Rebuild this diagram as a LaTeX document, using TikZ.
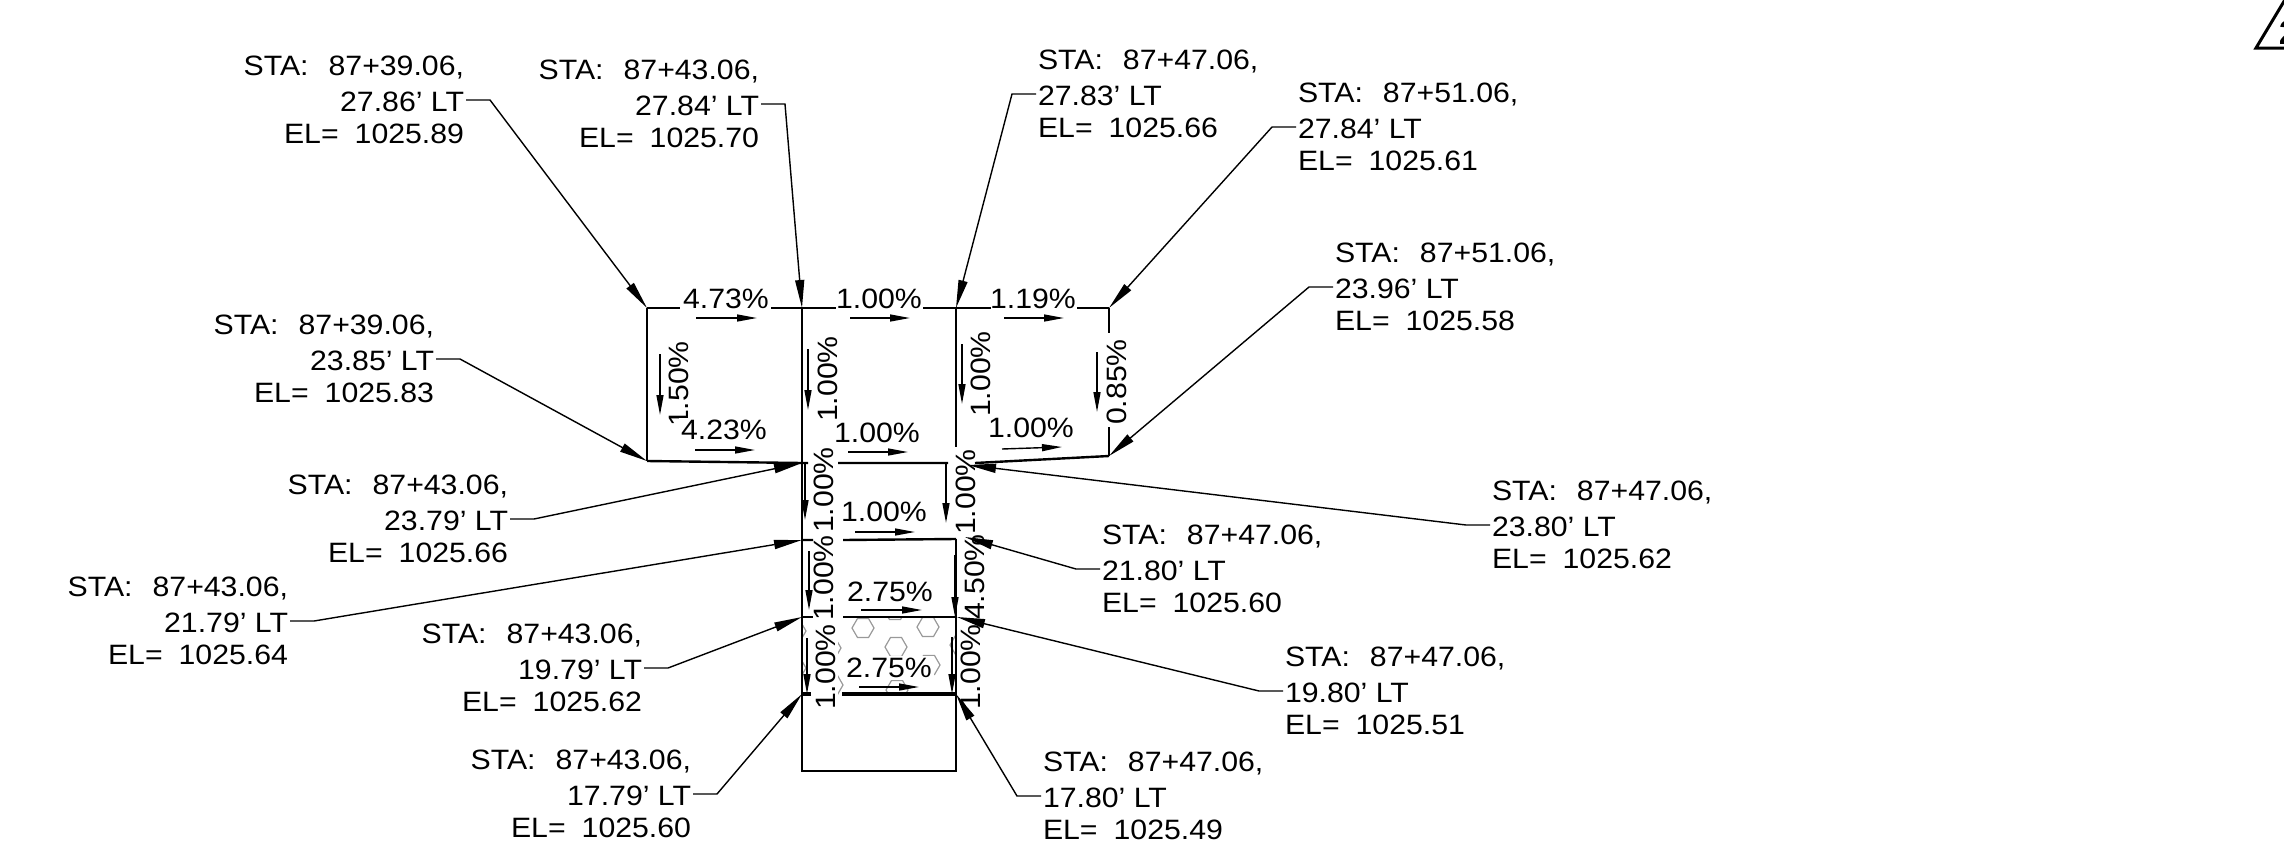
\documentclass[tikz,border=0pt]{standalone}
\usepackage{fontspec}
\setmainfont[FakeStretch=1.08]{Liberation Sans}
\usetikzlibrary{arrows.meta}
\newcommand{\sta}[1]{STA:\hspace{10pt}87+#1,}
\newcommand{\elv}[1]{EL=\hspace{8pt}#1}
\tikzset{
  x=0.5pt,y=-0.5pt,
  txt/.style={font=\fontsize{14}{16}\selectfont,inner sep=0pt,outer sep=1pt},
  rlab/.style={txt,align=right,anchor=east},
  llab/.style={txt,align=left,anchor=west},
  grade/.style={txt},
  rgrade/.style={txt,rotate=90},
  mask/.style={fill=white,inner sep=1pt},
  slab/.style={line width=1.2pt,line cap=butt},
  edge box/.style={line width=0.9pt},
  leader/.style={line width=0.7pt,-{Stealth[length=14pt,width=4.5pt,inset=0pt]},shorten >=0pt},
  flow/.style={line width=0.7pt,-{Stealth[length=10pt,width=3.5pt,inset=0pt]}},
  hexa/.style={draw=black!40,line width=0.6pt},
}
\begin{document}
\begin{tikzpicture}
\useasboundingbox (0,0) rectangle (2284,846);
% grid points
\coordinate (A) at (647,308); \coordinate (B) at (802,308); \coordinate (C) at (956,308); \coordinate (D) at (1109,308);
\coordinate (E) at (647,461); \coordinate (F) at (802,463); \coordinate (G) at (968,465); \coordinate (H) at (1109,456);
\coordinate (I) at (802,540); \coordinate (J) at (965,537);
\coordinate (K) at (802,617); \coordinate (L) at (957,617);
\coordinate (M) at (802,694); \coordinate (N) at (956,694);
\coordinate (P) at (802,771); \coordinate (Q) at (956,771);
% hexagon hatch
\begin{scope}
\clip (802,617) rectangle (956,694);
\foreach \c in {(863,628),(928,627),(896,647),(795,631),(795,668),(830,648),(832,685),(929,665),(961,645),(897,690),(895,610)}{
  \draw[hexa] \c +(0:11) -- +(60:11) -- +(120:11) -- +(180:11) -- +(240:11) -- +(300:11) -- cycle;
}
\end{scope}
% masking grade labels
\node[rgrade,mask] (g1a) at (826,667) {1.00\%};
\node[rgrade,mask] (g1b) at (971,667) {1.00\%};
\node[grade,mask] (g2a) at (889,668) {2.75\%};
% slab lines
\draw[slab] (A) -- (680,308) (771,308) -- (836,308) (923,308) -- (991,308) (1077,308) -- (D);
\draw[slab] (A) -- (E);
\draw[slab] (B) -- (M);
\draw[edge box] (M) -- (P) -- (Q) -- (N);
\draw[slab] (C) -- (956,447);
\draw[slab] (956,539) -- (N);
\draw[slab] (D) -- (1109,333) (1109,427) -- (H);
\draw[slab] (E) -- (F) -- (808,463) (838,463) -- (948,463) (975,463) -- (H);
\draw[slab] (I) -- (813,540) (843,540) -- (956,539);
\draw[slab] (K) -- (813,617) (843,617) -- (L);
\draw[line width=1.8pt] (M) -- (811,694) (842,694) -- (N);
% grade labels
\node[rgrade] (v1) at (679,384) {1.50\%};
\node[grade,mask] (h5) at (724,430) {4.23\%};
\node[grade] (h1) at (726,299) {4.73\%};
\node[grade] (h2) at (879,299) {1.00\%};
\node[grade] (h3) at (1033,299) {1.19\%};
\node[grade] (h6) at (877,433) {1.00\%};
\node[grade] (h7) at (1031,428) {1.00\%};
\node[grade] (h8) at (884,512) {1.00\%};
\node[grade] (h9) at (890,592) {2.75\%};
\node[rgrade] (v2) at (828,379) {1.00\%};
\node[rgrade] (v3) at (981,374) {1.00\%};
\node[rgrade] (v4) at (1117,382) {0.85\%};
\node[rgrade] (v5) at (824,490) {1.00\%};
\node[rgrade] (v6) at (966,492) {1.00\%};
\node[rgrade] (v7) at (824,578) {1.00\%};
\node[rgrade] (v8) at (975,577) {4.50\%};
% flow arrows
\draw[flow] (696,318) -- (757,318);
\draw[flow] (850,318) -- (910,318);
\draw[flow] (1004,318) -- (1064,318);
\draw[flow] (660,354) -- (660,415);
\draw[flow] (808,349) -- (808,410);
\draw[flow] (962,344) -- (962,404);
\draw[flow] (1097,352) -- (1097,412);
\draw[flow] (695,450) -- (755,450);
\draw[flow] (848,452) -- (908,452);
\draw[flow] (1002,449) -- (1062,447);
\draw[flow] (805,463) -- (805,520);
\draw[flow] (946,463) -- (946,523);
\draw[flow] (855,532) -- (915,532);
\draw[flow] (809,551) -- (809,610);
\draw[flow] (955,555) -- (955,617);
\draw[flow] (861,610) -- (922,610);
\draw[flow] (807,638) -- (807,694);
\draw[flow] (952,637) -- (952,694);
\draw[flow] (859,687) -- (919,687);
% callouts
\node[rlab] (l1) at (466,100) {\sta{39.06}\\[2pt]27.86’ LT\\\elv{1025.89}};
\node[rlab] (l2) at (761,104) {\sta{43.06}\\[2pt]27.84’ LT\\\elv{1025.70}};
\node[llab] (l3) at (1036,94) {\sta{47.06}\\[2pt]27.83’ LT\\\elv{1025.66}};
\node[llab] (l4) at (1296,127) {\sta{51.06}\\[2pt]27.84’ LT\\\elv{1025.61}};
\node[llab] (l5) at (1333,287) {\sta{51.06}\\[2pt]23.96’ LT\\\elv{1025.58}};
\node[rlab] (l6) at (436,359) {\sta{39.06}\\[2pt]23.85’ LT\\\elv{1025.83}};
\node[rlab] (l7) at (510,519) {\sta{43.06}\\[2pt]23.79’ LT\\\elv{1025.66}};
\node[llab] (l8) at (1490,525) {\sta{47.06}\\[2pt]23.80’ LT\\\elv{1025.62}};
\node[llab] (l9) at (1100,569) {\sta{47.06}\\[2pt]21.80’ LT\\\elv{1025.60}};
\node[rlab] (l10) at (290,621) {\sta{43.06}\\[2pt]21.79’ LT\\\elv{1025.64}};
\node[llab] (l11) at (1283,691) {\sta{47.06}\\[2pt]19.80’ LT\\\elv{1025.51}};
\node[rlab] (l12) at (644,668) {\sta{43.06}\\[2pt]19.79’ LT\\\elv{1025.62}};
\node[rlab] (l13) at (693,794) {\sta{43.06}\\[2pt]17.79’ LT\\\elv{1025.60}};
\node[llab] (l14) at (1041,796) {\sta{47.06}\\[2pt]17.80’ LT\\\elv{1025.49}};
\draw[leader] (l1.east) -- ++(24,0) -- (A);
\draw[leader] (l2.east) -- ++(24,0) -- (B);
\draw[leader] (l3.west) -- ++(-24,0) -- (C);
\draw[leader] (l4.west) -- ++(-24,0) -- (D);
\draw[leader] (l5.west) -- ++(-24,0) -- (H);
\draw[leader] (l6.east) -- ++(24,0) -- (E);
\draw[leader] (l7.east) -- ++(24,0) -- (F);
\draw[leader] (l8.west) -- ++(-24,0) -- (G);
\draw[leader] (l9.west) -- ++(-24,0) -- (J);
\draw[leader] (l10.east) -- ++(24,0) -- (I);
\draw[leader] (l11.west) -- ++(-24,0) -- (L);
\draw[leader] (l12.east) -- ++(24,0) -- (K);
\draw[leader] (l13.east) -- ++(24,0) -- (M);
\draw[leader] (l14.west) -- ++(-24,0) -- (N);
% revision triangle
\begin{scope}
\clip (2240,0) rectangle (2284,60);
\draw[line width=1.5pt,line join=miter] (2256,48) -- (2286,-2) -- (2316,48) -- cycle;
\node[txt] (rev) at (2289,33) {\fontsize{17}{17}\selectfont\bfseries 2};
\end{scope}
\end{tikzpicture}
\end{document}
